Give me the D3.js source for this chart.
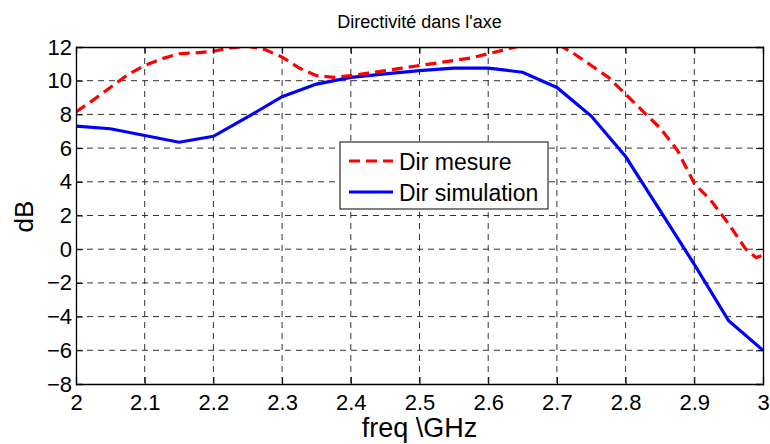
<!DOCTYPE html>
<html>
<head>
<meta charset="utf-8">
<script src="https://cdn.jsdelivr.net/npm/d3@7"></script>
<style>
  body { margin: 0; background: #fff; }
  text { font-family: "Liberation Sans", Arial, sans-serif; fill: #000; }
</style>
</head>
<body>
<div id="chart"></div>
<script>
var width = 770, height = 444;
var margin = {top: 47, right: 7, bottom: 60, left: 76};

// data
var freqSim = [2.0, 2.05, 2.1, 2.15, 2.2, 2.25, 2.3, 2.35, 2.4, 2.45, 2.5, 2.55, 2.6, 2.65, 2.7, 2.75, 2.8, 2.85, 2.9, 2.95, 3.0];
var dirSim  = [7.3, 7.15, 6.75, 6.35, 6.7, 7.85, 9.05, 9.8, 10.2, 10.4, 10.6, 10.75, 10.75, 10.5, 9.6, 7.9, 5.5, 2.3, -0.9, -4.25, -6.0];

var freqMes = [2.0, 2.025, 2.05, 2.075, 2.1, 2.125, 2.15, 2.175, 2.2, 2.225, 2.25, 2.275, 2.3, 2.325, 2.35, 2.375, 2.4,
  2.425, 2.45, 2.475, 2.5, 2.525, 2.55, 2.575, 2.6, 2.625, 2.65, 2.675, 2.7, 2.725, 2.75, 2.775, 2.8, 2.825, 2.85,
  2.875, 2.9, 2.925, 2.95, 2.975, 2.99, 3.0];
var dirMes  = [8.15, 8.85, 9.6, 10.35, 10.9, 11.3, 11.6, 11.65, 11.75, 11.95, 12.05, 11.85, 11.4, 10.75, 10.3, 10.2, 10.3,
  10.45, 10.6, 10.75, 10.9, 11.05, 11.2, 11.35, 11.6, 11.85, 12.1, 12.3, 12.2, 11.6, 10.9, 10.2, 9.2, 8.2, 7.2,
  5.9, 3.9, 2.85, 1.5, 0.0, -0.5, -0.35];

var xTicks = [2, 2.1, 2.2, 2.3, 2.4, 2.5, 2.6, 2.7, 2.8, 2.9, 3];
var yTicks = [-8, -6, -4, -2, 0, 2, 4, 6, 8, 10, 12];
var seriesNames = ["Dir mesure", "Dir simulation"];

var w = width - margin.left - margin.right;
var h = height - margin.top - margin.bottom;

var svg = d3.select("#chart").append("svg")
  .attr("width", width)
  .attr("height", height);

var x = d3.scaleLinear().domain([2, 3]).range([0, w]);
var y = d3.scaleLinear().domain([-8, 12]).range([h, 0]);

var g = svg.append("g")
  .attr("transform", "translate(" + margin.left + "," + margin.top + ")");

svg.append("defs").append("clipPath").attr("id", "clip")
  .append("rect").attr("width", w).attr("height", h);

// grid
g.selectAll(".vgrid").data(xTicks.slice(1, -1)).enter().append("line")
  .attr("x1", d => x(d)).attr("x2", d => x(d))
  .attr("y1", 0).attr("y2", h)
  .attr("stroke", "#333").attr("stroke-width", 1)
  .attr("stroke-dasharray", "6,5");
g.selectAll(".hgrid").data(yTicks.slice(1, -1)).enter().append("line")
  .attr("x1", 0).attr("x2", w)
  .attr("y1", d => y(d)).attr("y2", d => y(d))
  .attr("stroke", "#333").attr("stroke-width", 1)
  .attr("stroke-dasharray", "6,5");

// lines
var line = d3.line().x(d => x(d[0])).y(d => y(d[1]));

g.append("path")
  .datum(d3.zip(freqSim, dirSim))
  .attr("clip-path", "url(#clip)")
  .attr("fill", "none")
  .attr("stroke", "#0000ff")
  .attr("stroke-width", 3.2)
  .attr("d", line);

g.append("path")
  .datum(d3.zip(freqMes, dirMes))
  .attr("clip-path", "url(#clip)")
  .attr("fill", "none")
  .attr("stroke", "#ff0000")
  .attr("stroke-width", 3.2)
  .attr("stroke-dasharray", "11,6")
  .attr("d", line);

// axes, ticks inside on all four sides
var xAxis = g.append("g").attr("transform", "translate(0," + h + ")")
  .call(d3.axisBottom(x).tickValues(xTicks).tickFormat(d3.format("~g")).tickSize(-7).tickPadding(10.5));
var yAxis = g.append("g")
  .call(d3.axisLeft(y).tickValues(yTicks).tickSize(-7).tickPadding(4));
g.append("g")
  .call(d3.axisTop(x).tickValues(xTicks).tickSize(-7).tickFormat(""));
g.append("g").attr("transform", "translate(" + w + ",0)")
  .call(d3.axisRight(y).tickValues(yTicks).tickSize(-7).tickFormat(""));

g.selectAll(".domain").attr("stroke", "#000").attr("stroke-width", 1.3);
g.selectAll(".tick line").attr("stroke", "#000");
xAxis.selectAll("text").attr("font-size", "22px").attr("font-family", "Liberation Sans, Arial, sans-serif");
yAxis.selectAll("text").attr("font-size", "22px").attr("font-family", "Liberation Sans, Arial, sans-serif");

// titles
svg.append("text")
  .text("Directivité dans l'axe")
  .attr("x", margin.left + w / 2)
  .attr("y", 28)
  .attr("text-anchor", "middle")
  .attr("font-size", "18px");

svg.append("text")
  .text("freq \\GHz")
  .attr("x", margin.left + w / 2)
  .attr("y", 437)
  .attr("text-anchor", "middle")
  .attr("font-size", "27px");

svg.append("text")
  .text("dB")
  .attr("transform", "translate(33," + (margin.top + h / 2 + 1) + ") rotate(-90)")
  .attr("text-anchor", "middle")
  .attr("font-size", "26px");

// legend
var legend = svg.append("g").attr("transform", "translate(340,142)");
legend.append("rect")
  .attr("width", 208).attr("height", 67)
  .attr("fill", "#fff").attr("stroke", "#000").attr("stroke-width", 1);

var legendStyles = [
  {color: "#ff0000", dash: "11,6"},
  {color: "#0000ff", dash: null}
];
seriesNames.forEach(function(name, i) {
  var yy = 19 + i * 31;
  legend.append("line")
    .attr("x1", 9).attr("x2", 53)
    .attr("y1", yy).attr("y2", yy)
    .attr("stroke", legendStyles[i].color)
    .attr("stroke-width", 3.2)
    .attr("stroke-dasharray", legendStyles[i].dash);
  legend.append("text")
    .text(name)
    .attr("x", 59)
    .attr("y", yy + 9)
    .attr("font-size", "23px");
});
</script>
</body>
</html>
